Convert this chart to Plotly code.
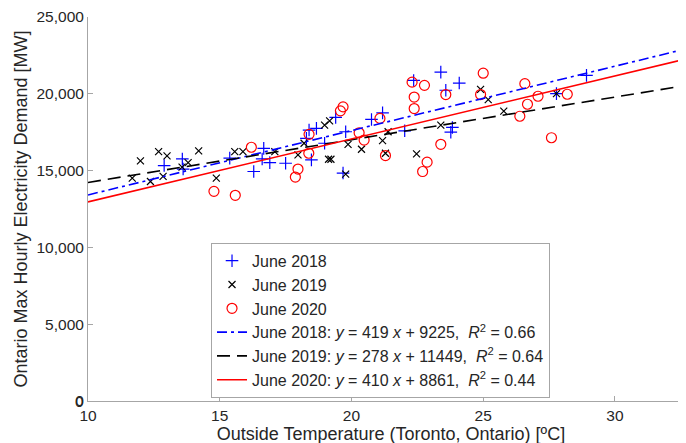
import plotly.graph_objects as go

# ---- data ----
t2018 = [12.89, 13.58, 13.61, 15.38, 16.29, 16.67, 16.61, 16.90, 17.50, 18.48,
         18.39, 18.29, 18.67, 18.98, 19.40, 19.68, 19.78, 20.76, 21.18, 22.02,
         22.36, 23.39, 23.58, 24.09, 23.83, 23.77, 27.78, 28.92]
d2018 = [15330, 15760, 15100, 15810, 14940, 16450, 15760, 15520, 15480, 15700,
         17640, 17100, 17750, 16780, 18460, 14840, 17530, 18330, 18760, 17590,
         20870, 21410, 20230, 20700, 17810, 17500, 20010, 21200]

t2019 = [11.99, 11.68, 12.37, 12.68, 13.00, 12.85, 13.57, 13.80, 14.20, 14.87,
         15.57, 15.88, 17.09, 17.97, 18.20, 18.98, 19.17, 19.13, 19.22, 19.78,
         19.87, 20.38, 21.18, 21.39, 21.29, 22.47, 23.39, 24.90, 25.19, 25.78, 27.78]
d2019 = [15630, 14510, 14290, 16240, 15960, 14620, 15230, 15520, 16280, 14510,
         16240, 16240, 16240, 16020, 16780, 17960, 18240, 15740, 15740, 14770,
         16710, 16390, 16950, 17530, 16130, 16090, 17960, 20290, 19620, 18870, 20010]

t2020 = [16.20, 14.78, 15.59, 17.97, 17.87, 18.38, 18.39, 19.58, 19.68, 20.29,
         20.48, 21.08, 21.29, 22.30, 22.77, 22.38, 22.38, 22.70, 22.87, 23.39,
         23.58, 24.90, 25.00, 26.39, 26.58, 26.68, 27.08, 27.59, 28.19]
d2020 = [16520, 13650, 13390, 15100, 14580, 16130, 17360, 18890, 19150, 17460,
         16990, 18400, 15980, 20760, 20550, 19790, 19040, 14940, 15550, 16710,
         19950, 19950, 21340, 18540, 20660, 19320, 19840, 17140, 19970]

series_names = ["June 2018", "June 2019", "June 2020"]
slopes = [419, 278, 410]
intercepts = [9225, 11449, 8861]
r2 = ["0.66", "0.64", "0.44"]

x_range = [10, 33]
y_range = [0, 25000]
x_ticks = [10, 15, 20, 25, 30]
y_ticks = [0, 5000, 10000, 15000, 20000, 25000]
y_ticktext = ["0", "5,000", "10,000", "15,000", "20,000", "25,000"]

FONT = "Liberation Sans, Arial, Helvetica, sans-serif"
TXT = "#262626"
colors = ["#0000ff", "#000000", "#ff0000"]
symbols = ["cross-thin", "x-thin", "circle-open"]
sizes = [9, 7, 10]
dashes = ["10px,4px,3px,4px", "13px,7px", "solid"]

fig = go.Figure()
for name, t, d, c, s, sz in zip(series_names, [t2018, t2019, t2020],
                                [d2018, d2019, d2020], colors, symbols, sizes):
    fig.add_trace(go.Scatter(
        x=t, y=d, mode="markers", name=name,
        marker=dict(symbol=s, size=sz, color=c, line=dict(color=c, width=1.2)),
    ))

for name, m, b, r, c, dsh in zip(series_names, slopes, intercepts, r2, colors, dashes):
    xs = list(x_range)
    ys = [m * xv + b for xv in xs]
    label = (f"{name}: <i>y</i> = {m} <i>x</i> + {b},  "
             f"<i>R</i><sup>2</sup> = {r}")
    fig.add_trace(go.Scatter(
        x=xs, y=ys, mode="lines", name=label,
        line=dict(color=c, width=1.6, dash=dsh),
    ))

axis_common = dict(
    showgrid=False, zeroline=False, showline=True, linecolor="#a6a6a6",
    linewidth=1, ticks="inside", ticklen=5, tickcolor="#a6a6a6",
    tickfont=dict(family=FONT, size=15.5, color=TXT),
    ticklabeloverflow="allow",
)

fig.update_layout(
    width=686, height=443,
    margin=dict(l=80, r=0, t=9, b=50, autoexpand=False),
    paper_bgcolor="white", plot_bgcolor="white",
    font=dict(family=FONT, color=TXT),
    showlegend=True,
    legend=dict(
        x=0.203, y=0.412, xanchor="left", yanchor="top",
        bordercolor="#a6a6a6", borderwidth=1, bgcolor="white",
        font=dict(family=FONT, size=16, color=TXT),
        tracegroupgap=0, itemwidth=30,
    ),
    xaxis=dict(range=x_range, tickvals=x_ticks,
               title=dict(text="Outside Temperature (Toronto, Ontario) [ºC]",
                          font=dict(family=FONT, size=18, color=TXT),
                          standoff=4),
               automargin=False,
               **axis_common),
    yaxis=dict(range=y_range, tickvals=y_ticks, ticktext=y_ticktext,
               title=dict(text="Ontario Max Hourly Electricity Demand [MW]",
                          font=dict(family=FONT, size=18, color=TXT),
                          standoff=4),
               automargin=False,
               **axis_common),
)

# plotly hides the y label at the axis corner; draw the "0" label explicitly
fig.add_annotation(
    x=0, xref="paper", y=y_ticks[0], yref="y", text=y_ticktext[0],
    showarrow=False, xanchor="right", yanchor="middle", xshift=-2,
    font=dict(family=FONT, size=15.5, color=TXT),
)

fig.write_html("out.html")
